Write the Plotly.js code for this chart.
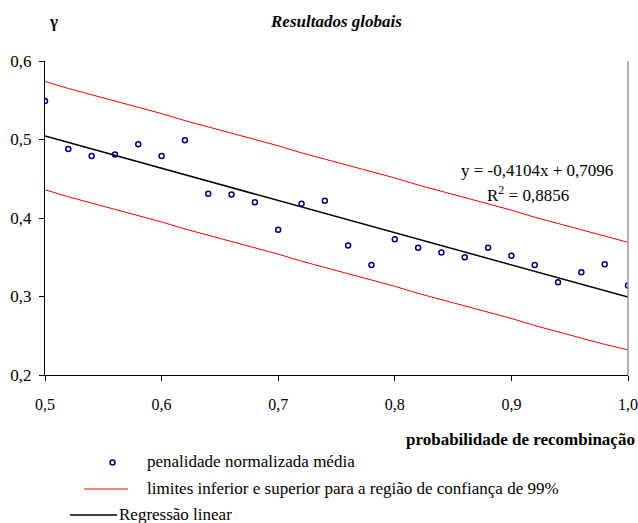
<!DOCTYPE html>
<html>
<head>
<meta charset="utf-8">
<script src="https://cdn.plot.ly/plotly-3.0.1.min.js"></script>
<style>html,body{margin:0;padding:0;background:#fff}#chart{width:638px;height:523px}</style>
</head>
<body>
<div id="chart"></div>
<script>
// Data
const probRecomb = [0.50,0.52,0.54,0.56,0.58,0.60,0.62,0.64,0.66,0.68,0.70,0.72,0.74,0.76,0.78,0.80,0.82,0.84,0.86,0.88,0.90,0.92,0.94,0.96,0.98,1.00];
const penalidade = [0.549,0.488,0.479,0.481,0.494,0.479,0.499,0.431,0.430,0.420,0.385,0.418,0.422,0.365,0.340,0.373,0.362,0.356,0.350,0.362,0.352,0.340,0.318,0.331,0.341,0.314];
const limiteSuperior = [0.574,0.565,0.557,0.549,0.541,0.533,0.524,0.516,0.508,0.500,0.492,0.483,0.475,0.467,0.459,0.451,0.442,0.434,0.426,0.418,0.410,0.401,0.393,0.385,0.377,0.369];
const limiteInferior = [0.436,0.427,0.419,0.411,0.403,0.395,0.386,0.378,0.370,0.362,0.354,0.345,0.337,0.329,0.321,0.313,0.304,0.296,0.288,0.280,0.272,0.263,0.255,0.247,0.239,0.232];
const regX = [0.5, 1.0];
const regY = [0.5044, 0.2992];
const xTicks = [0.5,0.6,0.7,0.8,0.9,1.0];
const yTicks = [0.2,0.3,0.4,0.5,0.6];
const legendLabels = ["penalidade normalizada média","limites inferior e superior para a região de confiança de 99%","Regressão linear"];

const serif = "Liberation Serif";
const W = 638, H = 523, L = 45, R = 10, T = 61, B = 148;
const pw = W - L - R, ph = H - T - B;
const px = p => (p - L) / pw;           // pixel x -> paper
const py = p => (H - B - p) / ph;       // pixel y -> paper
const f = s => ({family: serif, size: s, color: '#000'});

const traces = [
  {x: probRecomb, y: limiteSuperior, mode: 'lines', line: {color: '#ff0000', width: 1}, hoverinfo: 'skip'},
  {x: probRecomb, y: limiteInferior, mode: 'lines', line: {color: '#ff0000', width: 1}, hoverinfo: 'skip'},
  {x: regX, y: regY, mode: 'lines', line: {color: '#000000', width: 1.5}},
  {x: probRecomb, y: penalidade, mode: 'markers', marker: {symbol: 'circle-open', size: 5, color: '#000080', line: {width: 1.5, color: '#000080'}}}
];

const layout = {
  width: W, height: H,
  margin: {l: L, r: R, t: T, b: B, pad: 0},
  paper_bgcolor: '#fff', plot_bgcolor: '#fff',
  showlegend: false,
  separators: ', ',
  font: f(16),
  xaxis: {
    range: [0.5, 1.0], tickvals: xTicks, tickformat: '.1f',
    showgrid: false, zeroline: false, showline: true, linecolor: '#000', linewidth: 1,
    ticks: 'outside', ticklen: 5, tickcolor: '#000', tickfont: f(16),
    ticklabelstandoff: 10
  },
  yaxis: {
    range: [0.2, 0.6], tickvals: yTicks, tickformat: '.1f',
    showgrid: false, zeroline: false, showline: true, linecolor: '#000', linewidth: 1,
    ticks: 'outside', ticklen: 5, tickcolor: '#000', tickfont: f(17),
    ticklabelstandoff: 4
  },
  shapes: [
    {type: 'line', xref: 'paper', yref: 'paper', x0: 1, x1: 1, y0: 0, y1: 1, line: {color: '#999', width: 1.5}},
    {type: 'line', xref: 'paper', yref: 'paper', x0: px(84), x1: px(128), y0: py(489), y1: py(489), line: {color: '#ff0000', width: 1}},
    {type: 'line', xref: 'paper', yref: 'paper', x0: px(70), x1: px(117), y0: py(515), y1: py(515), line: {color: '#000', width: 1.5}},
    {type: 'circle', xref: 'paper', yref: 'paper', x0: px(110), x1: px(115), y0: py(460), y1: py(465), line: {color: '#000080', width: 1.5}}
  ],
  annotations: [
    {text: '<b><i>Resultados globais</i></b>', xref: 'paper', yref: 'paper', x: px(336), y: py(22), xanchor: 'center', yanchor: 'middle', showarrow: false, font: f(17)},
    {text: '<b>γ</b>', xref: 'paper', yref: 'paper', x: px(53), y: py(22), xanchor: 'center', yanchor: 'middle', showarrow: false, font: f(17)},
    {text: '<b>probabilidade de recombinação</b>', xref: 'paper', yref: 'paper', x: px(637), y: py(439), xanchor: 'right', yanchor: 'middle', showarrow: false, font: f(17)},
    {text: 'y = -0,4104x + 0,7096', xref: 'paper', yref: 'paper', x: px(537), y: py(170), xanchor: 'center', yanchor: 'middle', showarrow: false, font: f(17)},
    {text: 'R<sup>2</sup> = 0,8856', xref: 'paper', yref: 'paper', x: px(528), y: py(194), xanchor: 'center', yanchor: 'middle', showarrow: false, font: f(17)},
    {text: legendLabels[0], xref: 'paper', yref: 'paper', x: px(145), y: py(461), xanchor: 'left', yanchor: 'middle', showarrow: false, font: f(17)},
    {text: legendLabels[1], xref: 'paper', yref: 'paper', x: px(145), y: py(488), xanchor: 'left', yanchor: 'middle', showarrow: false, font: f(17)},
    {text: legendLabels[2], xref: 'paper', yref: 'paper', x: px(117), y: py(514), xanchor: 'left', yanchor: 'middle', showarrow: false, font: f(17)}
  ]
};

Plotly.newPlot('chart', traces, layout, {staticPlot: true, displayModeBar: false});
</script>
</body>
</html>
